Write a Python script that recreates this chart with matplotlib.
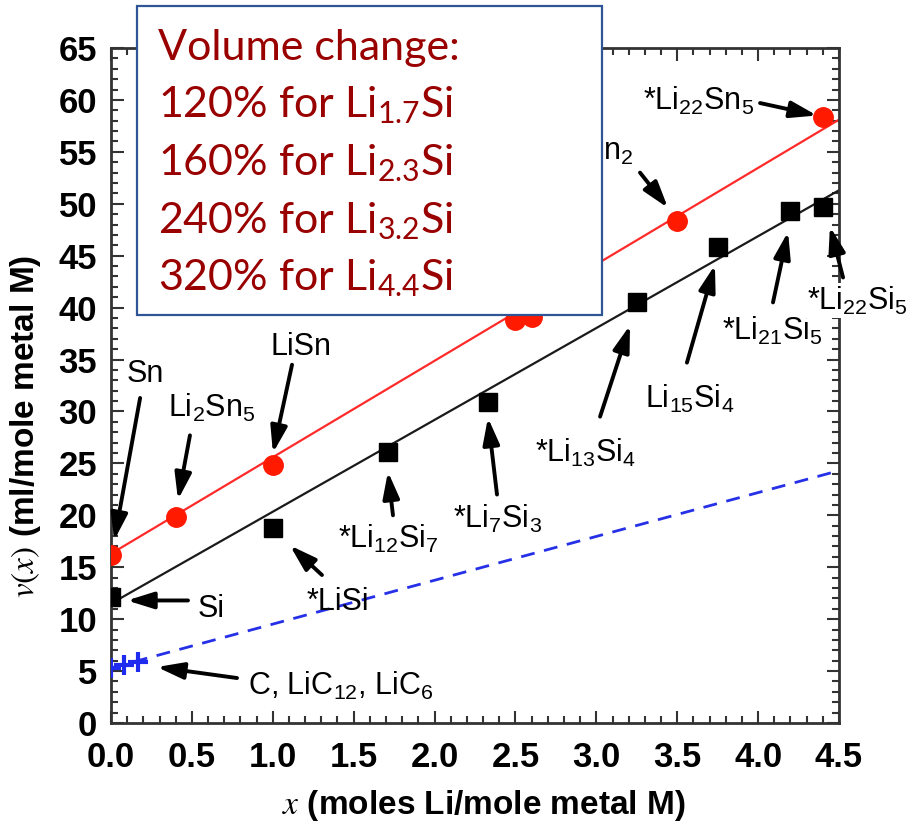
import matplotlib
matplotlib.use('Agg')
import matplotlib.pyplot as plt
from matplotlib.patches import Rectangle
from matplotlib.ticker import MultipleLocator

plt.rcParams['font.family'] = ['Liberation Sans', 'DejaVu Sans']
plt.rcParams['mathtext.fontset'] = 'stix'

# ---------------- data ----------------
sn_x = [0.0, 0.4, 1.0, 2.5, 2.6, 3.5, 4.4]
sn_v = [16.2, 19.8, 24.8, 38.8, 39.1, 48.3, 58.4]
si_x = [0.0, 1.0, 1.71, 2.33, 3.25, 3.75, 4.2, 4.4]
si_v = [12.1, 18.8, 26.1, 30.9, 40.5, 45.8, 49.3, 49.7]
c_x = [0.0, 0.083, 0.167]
c_v = [5.3, 5.6, 5.9]
sn_fit_x = [0.0, 4.5]
sn_fit_v = [16.3, 58.1]
si_fit_x = [0.0, 4.5]
si_fit_v = [11.5, 51.3]
c_fit_x = [0.0, 4.5]
c_fit_v = [5.3, 24.3]

box_lines = ['Volume change:',
             r'120% for Li$\mathregular{_{1.7}}$Si',
             r'160% for Li$\mathregular{_{2.3}}$Si',
             r'240% for Li$\mathregular{_{3.2}}$Si',
             r'320% for Li$\mathregular{_{4.4}}$Si']

def sub(s):
    return r'$\mathregular{_{%s}}$' % s

# (label, text x, text baseline y, ha, arrow tail, arrow head, white background)
annotations = [
    ('Sn', 0.099, 32.8, 'left', (0.18, 31.3), (0.02, 17.6), False),
    ('Li' + sub('2') + 'Sn' + sub('5'), 0.352, 29.5, 'left', (0.488, 27.7), (0.414, 21.5), False),
    ('LiSn', 0.983, 35.4, 'left', (1.119, 34.5), (1.001, 26.0), False),
    ('Li' + sub('7') + 'Sn' + sub('2'), 3.227, 54.2, 'right', (3.27, 53.0), (3.443, 49.6), False),
    ('*Li' + sub('22') + 'Sn' + sub('5'), 3.288, 59.0, 'left', (4.012, 59.7), (4.364, 58.5), False),
    ('Si', 0.538, 10.2, 'left', (0.476, 11.8), (0.099, 11.8), False),
    ('*LiSi', 1.211, 10.9, 'left', (1.304, 14.25), (1.106, 17.1), False),
    ('*Li' + sub('12') + 'Si' + sub('7'), 1.403, 16.85, 'left', (1.743, 20.0), (1.712, 24.2), False),
    ('*Li' + sub('7') + 'Si' + sub('3'), 2.114, 18.8, 'left', (2.386, 22.0), (2.33, 29.4), False),
    ('*Li' + sub('13') + 'Si' + sub('4'), 2.621, 25.1, 'left', (3.023, 29.5), (3.208, 38.3), False),
    ('Li' + sub('15') + 'Si' + sub('4'), 3.301, 30.3, 'left', (3.56, 34.7), (3.733, 44.1), False),
    ('*Li' + sub('21') + 'Si' + sub('5'), 3.777, 36.9, 'left', (4.092, 40.5), (4.185, 47.3), False),
    ('*Li' + sub('22') + 'Si' + sub('5'), 4.302, 39.8, 'left', (4.525, 42.9), (4.444, 47.8), True),
    ('C, LiC' + sub('12') + ', LiC' + sub('6'), 0.847, 2.7, 'left', (0.779, 4.33), (0.284, 5.39), False),
]

# ---------------- figure ----------------
W, H = 909, 834
fig = plt.figure(figsize=(W / 100, H / 100), dpi=100)
ax = fig.add_axes([111 / W, 1 - 723 / H, (839 - 111) / W, (723 - 48) / H])

ax.plot(sn_fit_x, sn_fit_v, color='#ff2a2a', lw=1.6, zorder=2)
ax.plot(si_fit_x, si_fit_v, color='#1a1a1a', lw=1.6, zorder=2)
ax.plot(c_fit_x, c_fit_v, color='#2630e6', lw=2.0, dashes=[5, 3.5], zorder=2)

ax.plot(sn_x, sn_v, 'o', color='#ff1a00', ms=14, mec='#ff1a00', zorder=3)
ax.plot(si_x, si_v, 's', color='black', ms=13, zorder=3)
ax.plot(c_x, c_v, '+', color='#1f2cf0', ms=15, mew=3, zorder=3)

ax.set_xlim(0, 4.5)
ax.set_ylim(0, 65)
ax.xaxis.set_major_locator(MultipleLocator(0.5))
ax.xaxis.set_minor_locator(MultipleLocator(0.1))
ax.yaxis.set_major_locator(MultipleLocator(5))
ax.yaxis.set_minor_locator(MultipleLocator(1))
ax.tick_params(which='both', direction='in', top=True, right=True, width=1.5, color='#333333')
ax.tick_params(which='major', length=9)
ax.tick_params(which='minor', length=5)
ax.tick_params(axis='x', which='major', pad=13)
ax.tick_params(axis='y', which='major', pad=10)
for lab in ax.get_xticklabels() + ax.get_yticklabels():
    lab.set_fontsize(25)
    lab.set_fontweight('bold')
ax.xaxis.set_major_formatter(matplotlib.ticker.FormatStrFormatter('%.1f'))
ax.yaxis.set_major_formatter(matplotlib.ticker.FormatStrFormatter('%d'))
for sp in ax.spines.values():
    sp.set_linewidth(2)
    sp.set_color('#333333')

ax.set_xlabel(r'$x$ (moles Li/mole metal M)', fontsize=24, fontweight='bold')
ax.xaxis.set_label_coords(0.512, -0.097)
ax.set_ylabel(r'$v(x)$ (ml/mole metal M)', fontsize=24, fontweight='bold')
ax.yaxis.set_label_coords(-0.093, 0.44)

for label, tx, ty, ha, tail, head, bg in annotations:
    t = ax.text(tx, ty, label, fontsize=22, ha=ha, va='baseline', color='black',
                zorder=4, clip_on=False)
    if bg:
        t.set_bbox(dict(facecolor='white', edgecolor='none', pad=1))
    ax.annotate('', xy=head, xytext=tail, annotation_clip=False,
                arrowprops=dict(arrowstyle='-|>,head_length=0.8,head_width=0.25',
                                lw=2.8, color='black', shrinkA=0, shrinkB=0,
                                mutation_scale=20))

# ---------------- text box ----------------
rect = Rectangle((137 / W, 1 - 315 / H), 465 / W, 309 / H, transform=fig.transFigure,
                 facecolor='white', edgecolor='#2f5597', lw=1.6, zorder=5)
fig.add_artist(rect)
baselines = [60, 117, 175, 233, 290]
for line, b in zip(box_lines, baselines):
    fig.text(158 / W, 1 - b / H, line, fontsize=31, color='#990000',
             family=['Lato', 'DejaVu Sans'], va='baseline', ha='left', zorder=6)

fig.savefig('out.png', dpi=100)
